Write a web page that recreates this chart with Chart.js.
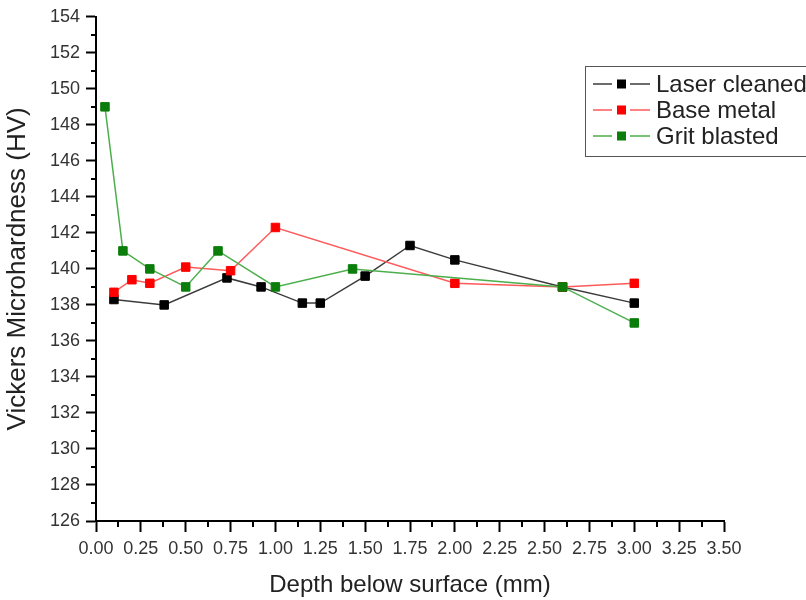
<!DOCTYPE html>
<html>
<head>
<meta charset="utf-8">
<title>Vickers Microhardness vs depth</title>
<script src="https://cdn.jsdelivr.net/npm/chart.js@4.4.1/dist/chart.umd.min.js"></script>
<style>
    body { margin: 0; background: #fff; }
    canvas { display: block; }
</style>
</head>
<body>
<canvas id="chart" width="806" height="600"></canvas>
<script>
// values
const laserX = [0.1, 0.38, 0.73, 0.92, 1.15, 1.25, 1.5, 1.75, 2.0, 2.6, 3.0];
const laserY = [138.3, 138.0, 139.5, 139.0, 138.1, 138.1, 139.6, 141.3, 140.5, 139.0, 138.1];

const baseX = [0.1, 0.2, 0.3, 0.5, 0.75, 1.0, 2.0, 2.6, 3.0];
const baseY = [138.7, 139.4, 139.2, 140.1, 139.9, 142.3, 139.2, 139.0, 139.2];

const gritX = [0.05, 0.15, 0.3, 0.5, 0.68, 1.0, 1.43, 2.6, 3.0];
const gritY = [149.0, 141.0, 140.0, 139.0, 141.0, 139.0, 140.0, 139.0, 137.0];

const seriesNames = ['Laser cleaned', 'Base metal', 'Grit blasted'];
const markerColors = ['#000000', '#ff0000', '#0a7d0a'];
const lineColors = ['#3c3c3c', '#ff5a5a', '#4caf4c'];

function toPoints(xs, ys) {
    let pts = [];
    for (let i = 0; i < xs.length; i++) {
        pts.push({ x: xs[i], y: ys[i] });
    }
    return pts;
}

const seriesData = [toPoints(laserX, laserY), toPoints(baseX, baseY), toPoints(gritX, gritY)];

const datasets = seriesData.map(function (pts, i) {
    return {
        label: seriesNames[i],
        data: pts,
        borderColor: lineColors[i],
        borderWidth: 1.5,
        backgroundColor: markerColors[i],
        pointStyle: 'rect',
        pointRadius: 6,
        pointBorderWidth: 1,
        pointBackgroundColor: markerColors[i],
        pointBorderColor: markerColors[i],
        tension: 0,
        fill: false,
        order: 3 - i   // grit blasted drawn on top, like the original
    };
});

const font = "'Liberation Sans', Arial, sans-serif";

// short unlabeled ticks between the labeled ones
const minorTicks = {
    id: 'minorTicks',
    afterDraw: (chart) => {
        const ctx = chart.ctx;
        const xs = chart.scales.x;
        const ys = chart.scales.y;
        const area = chart.chartArea;
        ctx.save();
        ctx.strokeStyle = '#000';
        ctx.lineWidth = 2;
        ctx.beginPath();
        for (let v = 127; v < 154; v += 2) {
            const py = Math.round(ys.getPixelForValue(v));
            ctx.moveTo(area.left - 5, py);
            ctx.lineTo(area.left, py);
        }
        for (let v = 0.125; v < 3.5; v += 0.25) {
            const px = Math.round(xs.getPixelForValue(v));
            ctx.moveTo(px, area.bottom);
            ctx.lineTo(px, area.bottom + 6);
        }
        ctx.stroke();
        ctx.restore();
    }
};

// boxed legend with line-square-line keys
const boxedLegend = {
    id: 'boxedLegend',
    afterDraw: (chart) => {
        const ctx = chart.ctx;
        ctx.save();
        ctx.strokeStyle = '#555';
        ctx.lineWidth = 1;
        ctx.fillStyle = '#fff';
        ctx.fillRect(585.5, 66.5, 240, 90);
        ctx.strokeRect(585.5, 66.5, 240, 90);
        ctx.font = '24px ' + font;
        ctx.textBaseline = 'middle';
        for (let i = 0; i < seriesNames.length; i++) {
            const y = 84 + i * 26;
            ctx.strokeStyle = lineColors[i];
            ctx.lineWidth = 1.5;
            ctx.beginPath();
            ctx.moveTo(593, y);
            ctx.lineTo(612, y);
            ctx.moveTo(630, y);
            ctx.lineTo(650, y);
            ctx.stroke();
            ctx.fillStyle = markerColors[i];
            ctx.fillRect(617, y - 4.5, 9, 9);
            ctx.fillStyle = '#222';
            ctx.fillText(seriesNames[i], 656, y + 1);
        }
        ctx.restore();
    }
};

const config = {
    type: 'line',
    data: { datasets: datasets },
    options: {
        responsive: false,
        animation: false,
        plugins: {
            legend: { display: false },
            tooltip: { enabled: false }
        },
        scales: {
            x: {
                type: 'linear',
                min: 0,
                max: 3.5,
                afterFit: (scale) => { scale.height = 79; },
                ticks: {
                    stepSize: 0.25,
                    color: '#333',
                    padding: 6,
                    maxRotation: 0,
                    autoSkip: false,
                    font: { family: font, size: 18 },
                    callback: function (value) { return value.toFixed(2); }
                },
                grid: {
                    drawOnChartArea: false,
                    tickLength: 11,
                    tickWidth: 2,
                    tickColor: '#000'
                },
                border: { color: '#000', width: 2 },
                title: {
                    display: true,
                    text: 'Depth below surface (mm)',
                    color: '#222',
                    font: { family: font, size: 24 },
                    padding: { top: 0, bottom: 0 }
                }
            },
            y: {
                min: 126,
                max: 154,
                afterFit: (scale) => { scale.width = 96; },
                ticks: {
                    stepSize: 2,
                    color: '#333',
                    padding: 6,
                    font: { family: font, size: 18 }
                },
                grid: {
                    drawOnChartArea: false,
                    tickLength: 10,
                    tickWidth: 2,
                    tickColor: '#000'
                },
                border: { color: '#000', width: 2 },
                title: {
                    display: true,
                    text: 'Vickers Microhardness (HV)',
                    color: '#222',
                    font: { family: font, size: 26 },
                    padding: { top: 2, bottom: 0 }
                }
            }
        },
        layout: {
            padding: { top: 15, right: 82, left: 0, bottom: 0 }
        }
    },
    plugins: [minorTicks, boxedLegend]
};

let chart = new Chart(document.getElementById('chart'), config);
</script>
</body>
</html>
